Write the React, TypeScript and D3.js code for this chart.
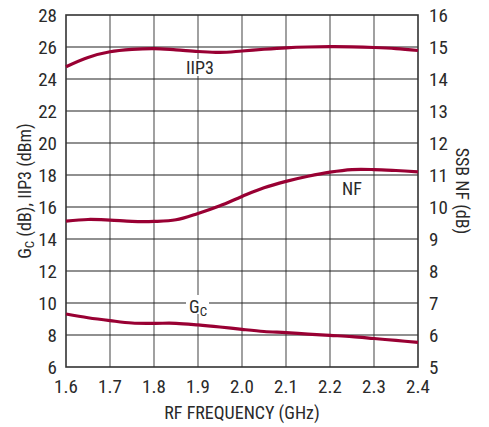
import React from "react";
import * as d3 from "d3";

const freqs = [1.6, 1.65, 1.7, 1.75, 1.8, 1.85, 1.9, 1.95, 2.0, 2.05, 2.1, 2.15, 2.2, 2.25, 2.3, 2.35, 2.4];
const iip3 = [24.77, 25.35, 25.7, 25.85, 25.9, 25.82, 25.72, 25.66, 25.75, 25.86, 25.95, 26.0, 26.02, 26.01, 25.97, 25.9, 25.78];
const nf = [9.56, 9.61, 9.59, 9.55, 9.55, 9.6, 9.8, 10.04, 10.33, 10.6, 10.8, 10.96, 11.09, 11.17, 11.17, 11.14, 11.1];
const gc = [9.31, 9.08, 8.9, 8.75, 8.73, 8.73, 8.63, 8.5, 8.35, 8.22, 8.15, 8.06, 7.98, 7.9, 7.78, 7.66, 7.54];

const xTicks = [1.6, 1.7, 1.8, 1.9, 2.0, 2.1, 2.2, 2.3, 2.4];
const leftTicks = [6, 8, 10, 12, 14, 16, 18, 20, 22, 24, 26, 28];
const rightTicks = [5, 6, 7, 8, 9, 10, 11, 12, 13, 14, 15, 16];

const FONT = "'Liberation Sans Narrow', 'Roboto Condensed', 'Arial Narrow', 'Liberation Sans', sans-serif";
const CURVE = "#990033";
const TEXT = "#2a2a2a";

export default function App() {
  const L = 66, R = 418, T = 15, B = 367;
  const x = d3.scaleLinear().domain([1.6, 2.4]).range([L, R]);
  const yL = d3.scaleLinear().domain([6, 28]).range([B, T]);
  const yR = d3.scaleLinear().domain([5, 16]).range([B, T]);

  const mk = (y: (v: number) => number) =>
    d3.line<number>().x((_, i) => x(freqs[i])).y((d) => y(d)).curve(d3.curveCatmullRom.alpha(0.5));
  const iipPath = mk(yL)(iip3) || "";
  const gcPath = mk(yL)(gc) || "";
  const nfPath = mk(yR)(nf) || "";

  return (
    <svg width={489} height={427} style={{ position: "absolute", left: 0, top: 0, background: "#fff" }} fontFamily={FONT}>
      <rect x={0} y={0} width={489} height={427} fill="#fff" />
      {xTicks.slice(1, -1).map((t) => (
        <line key={"vx" + t} x1={x(t)} x2={x(t)} y1={T} y2={B} stroke="#6e6e6e" strokeWidth={1.3} />
      ))}
      {leftTicks.slice(1, -1).map((t) => (
        <line key={"hy" + t} x1={L} x2={R} y1={yL(t)} y2={yL(t)} stroke="#222" strokeWidth={1.2} />
      ))}
      <rect x={L} y={T} width={R - L} height={B - T} fill="none" stroke="#333" strokeWidth={1.6} />

      <path d={iipPath} fill="none" stroke={CURVE} strokeWidth={3.2} />
      <path d={nfPath} fill="none" stroke={CURVE} strokeWidth={3.2} />
      <path d={gcPath} fill="none" stroke={CURVE} strokeWidth={3.2} />

      <rect x={185} y={59} width={30} height={17} fill="#fff" />
      <text x={200} y={74} textAnchor="middle" fontSize={18} fill={TEXT}>IIP3</text>
      <text x={352} y={195} textAnchor="middle" fontSize={18} fill={TEXT}>NF</text>
      <rect x={186} y={295} width={23} height={19} fill="#fff" />
      <text x={189} y={313} fontSize={18} fill={TEXT}>
        G<tspan fontSize={13} dy={3}>C</tspan>
      </text>

      {leftTicks.map((t) => (
        <text key={"lt" + t} x={57} y={yL(t) + 6.5} textAnchor="end" fontSize={19} fill={TEXT}>{t}</text>
      ))}
      {rightTicks.map((t) => (
        <text key={"rt" + t} x={429} y={yR(t) + 6.5} textAnchor="start" fontSize={19} fill={TEXT}>{t}</text>
      ))}
      {xTicks.map((t) => (
        <text key={"xt" + t} x={x(t)} y={393} textAnchor="middle" fontSize={19} fill={TEXT}>{t.toFixed(1)}</text>
      ))}
      <text x={242} y={419} textAnchor="middle" fontSize={18} fill={TEXT}>RF FREQUENCY (GHz)</text>
      <text transform={`translate(31, ${(T + B) / 2}) rotate(-90)`} textAnchor="middle" fontSize={18} fill={TEXT}>
        G<tspan fontSize={13} dy={3}>C</tspan><tspan dy={-3}> (dB), IIP3 (dBm)</tspan>
      </text>
      <text transform={`translate(456, ${(T + B) / 2}) rotate(90)`} textAnchor="middle" fontSize={18} fill={TEXT}>SSB NF (dB)</text>
    </svg>
  );
}
